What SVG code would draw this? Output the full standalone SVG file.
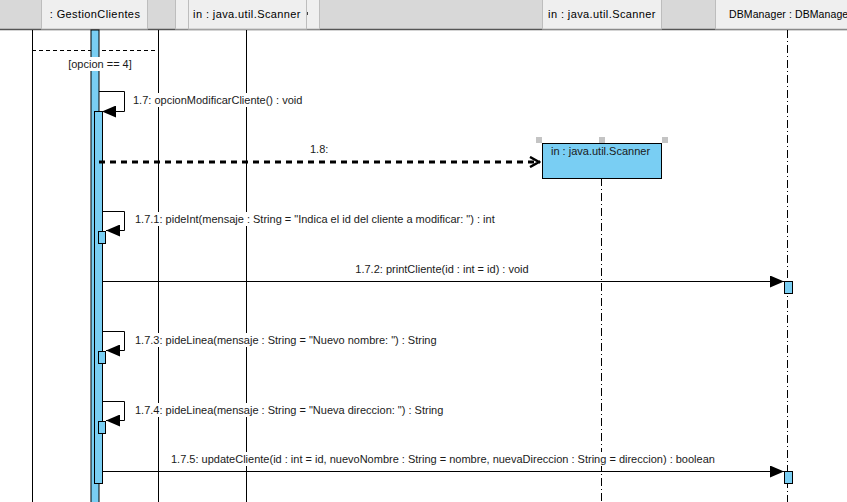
<svg xmlns="http://www.w3.org/2000/svg" width="847" height="502" viewBox="0 0 847 502">
  <style>
    .hdr { font-family: "Liberation Sans", Arial, sans-serif; font-size: 11px; fill: #000; letter-spacing: 0.4px; }
    .hdr-tight { font-family: "Liberation Sans", Arial, sans-serif; font-size: 10.5px; fill: #000; letter-spacing: 0.1px; }
    .lbl { font-family: "Liberation Sans", Arial, sans-serif; font-size: 11px; fill: #1a1a1a; }
    .bg { fill: #fff; }
    .act { fill: #79cef3; stroke: #000; stroke-width: 1; }
    .msg { fill: none; stroke: #000; stroke-width: 1; }
    .life { stroke: #000; stroke-width: 1; }
    .dlife { stroke: #000; stroke-width: 1; stroke-dasharray: 8 3 1 3; }
    .hbox { fill: #efefef; stroke: #bdbdbd; stroke-width: 1; }
    .handle { fill: #c4c4c4; }
  </style>
  <defs>
    <marker id="filled" viewBox="0 0 14 12" refX="14" refY="6" markerWidth="14" markerHeight="12" markerUnits="userSpaceOnUse" orient="auto">
      <path d="M0,0 L14,6 L0,12 Z" fill="#000"/>
    </marker>
    <marker id="open" viewBox="0 0 12 12" refX="11" refY="6" markerWidth="12" markerHeight="12" markerUnits="userSpaceOnUse" orient="auto">
      <path d="M1,1 L10,6 L1,11" fill="none" stroke="#000" stroke-width="2.5"/>
    </marker>
  </defs>
  <rect width="847" height="502" fill="#fff"/>

  <!-- lifeline header strip -->
  <g id="header">
    <rect x="0" y="0" width="847" height="29" fill="#d8d8d8"/>
    <line x1="0" y1="29.5" x2="847" y2="29.5" stroke="#555" stroke-width="1.5"/>
  </g>

  <!-- combined fragment [opcion == 4] -->
  <g id="fragment-opcion4">
    <line class="life" x1="32.5" y1="30" x2="32.5" y2="502"/>
    <line class="life" x1="158.5" y1="30" x2="158.5" y2="502"/>
    <line x1="32" y1="50.5" x2="158" y2="50.5" stroke="#000" stroke-dasharray="4 3"/>
  </g>

  <!-- lifeline: GestionClientes -->
  <g id="node-gestion">
    <rect class="hbox" x="41.5" y="-1" width="106" height="30"/>
    <text class="hdr" x="95" y="18" text-anchor="middle">: GestionClientes</text>
    <rect class="act" x="91" y="30" width="8" height="473"/>
    <rect class="act" x="94.5" y="111.5" width="8" height="372"/>
  </g>

  <!-- guard label drawn over the activation bar -->
  <g id="fragment-guard">
    <rect class="bg" x="65" y="57" width="70" height="14"/>
    <text class="lbl" x="100" y="68" text-anchor="middle">[opcion == 4]</text>
  </g>

  <!-- lifeline: in : java.util.Scanner (header) -->
  <g id="node-scanner-a">
    <rect class="hbox" x="175.5" y="-1" width="144" height="30"/>
    <rect class="hbox" x="188.5" y="-1" width="118" height="30"/>
    <line x1="307.5" y1="12" x2="307.5" y2="15" stroke="#444"/>
    <text class="hdr" x="247" y="18" text-anchor="middle">in : java.util.Scanner</text>
    <line class="life" x1="246.5" y1="30" x2="246.5" y2="502"/>
  </g>

  <!-- lifeline: in : java.util.Scanner (header, right) -->
  <g id="node-scanner-b">
    <rect class="hbox" x="542.5" y="-1" width="119" height="30"/>
    <text class="hdr" x="602" y="18" text-anchor="middle">in : java.util.Scanner</text>
  </g>

  <!-- lifeline: DBManager -->
  <g id="node-dbmanager">
    <rect class="hbox" x="715.5" y="-1" width="132" height="30"/>
    <text class="hdr-tight" x="729" y="18">DBManager : DBManage</text>
    <line class="dlife" x1="787.5" y1="30" x2="787.5" y2="502"/>
    <rect class="act" x="784.5" y="281.5" width="8" height="12"/>
    <rect class="act" x="784.5" y="471.5" width="8" height="12"/>
  </g>

  <!-- created object: in : java.util.Scanner -->
  <g id="node-scanner-created">
    <line class="dlife" x1="601.5" y1="178" x2="601.5" y2="502"/>
    <rect class="act" x="542.5" y="143.5" width="119" height="35"/>
    <text class="lbl" x="551" y="155">in : java.util.Scanner</text>
    <rect class="handle" x="536" y="137" width="6" height="6"/>
    <rect class="handle" x="599" y="137" width="6" height="6"/>
    <rect class="handle" x="662" y="137" width="6" height="6"/>
  </g>

  <!-- small self-call activations -->
  <g id="self-activations">
    <rect class="act" x="98.5" y="231.5" width="7" height="12"/>
    <rect class="act" x="98.5" y="351.5" width="7" height="12"/>
    <rect class="act" x="98.5" y="421.5" width="7" height="12"/>
  </g>

  <!-- messages -->
  <g id="connectors">
    <polyline class="msg" points="99,91.5 124.5,91.5 124.5,111.5 102,111.5" marker-end="url(#filled)"/>
    <line x1="99" y1="162" x2="540" y2="162" stroke="#000" stroke-width="3" stroke-dasharray="6 5" marker-end="url(#open)"/>
    <polyline class="msg" points="103,211.5 124.5,211.5 124.5,230.5 106,230.5" marker-end="url(#filled)"/>
    <line class="msg" x1="103" y1="281.5" x2="784" y2="281.5" marker-end="url(#filled)"/>
    <polyline class="msg" points="103,331.5 124.5,331.5 124.5,350.5 106,350.5" marker-end="url(#filled)"/>
    <polyline class="msg" points="103,401.5 124.5,401.5 124.5,420.5 106,420.5" marker-end="url(#filled)"/>
    <line class="msg" x1="103" y1="471.5" x2="784" y2="471.5" marker-end="url(#filled)"/>
  </g>

  <!-- message labels (white boxes keep lifelines from crossing the text) -->
  <g id="labels">
    <rect class="bg" x="131" y="93" width="175" height="14"/>
    <text class="lbl" x="133" y="104">1.7: opcionModificarCliente() : void</text>
    <text class="lbl" x="310" y="153">1.8:</text>
    <rect class="bg" x="133" y="212" width="364" height="14"/>
    <text class="lbl" x="135" y="223">1.7.1: pideInt(mensaje : String = "Indica el id del cliente a modificar: ") : int</text>
    <text class="lbl" x="442" y="273" text-anchor="middle">1.7.2: printCliente(id : int = id) : void</text>
    <rect class="bg" x="133" y="333" width="305" height="14"/>
    <text class="lbl" x="135" y="344">1.7.3: pideLinea(mensaje : String = "Nuevo nombre: ") : String</text>
    <rect class="bg" x="133" y="403" width="312" height="14"/>
    <text class="lbl" x="135" y="414">1.7.4: pideLinea(mensaje : String = "Nueva direccion: ") : String</text>
    <rect class="bg" x="169" y="452" width="549" height="14"/>
    <text class="lbl" x="171" y="463">1.7.5: updateCliente(id : int = id, nuevoNombre : String = nombre, nuevaDireccion : String = direccion) : boolean</text>
  </g>
</svg>
